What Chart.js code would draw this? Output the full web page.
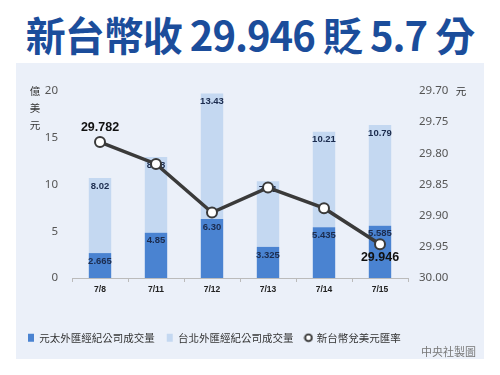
<!DOCTYPE html>
<html>
<head>
<meta charset="utf-8">
<script src="https://cdn.jsdelivr.net/npm/chart.js@4.4.1/dist/chart.umd.min.js"></script>
<style>
  body { margin: 0; background: #fff; width: 500px; height: 375px; overflow: hidden; font-family: "Noto Sans CJK TC", sans-serif; }
  .title { position: absolute; left: 0; top: 6px; width: 500px; text-align: center; font-size: 40px; font-weight: bold; color: #1b4d9b; letter-spacing: -1px; line-height: 56px; white-space: nowrap; }
  .panel { position: absolute; left: 16px; top: 63px; width: 468px; height: 296px; background: #ebf0f9; }
  .credit { position: absolute; right: 24px; top: 343px; font-size: 11px; color: #777; }
</style>
</head>
<body>
<div class="title">新台幣收 29.946 貶 5.7 分</div>
<div class="panel"><canvas id="chart"></canvas></div>
<div class="credit">中央社製圖</div>
<script>
const dates = ["7/8", "7/11", "7/12", "7/13", "7/14", "7/15"];
const yuantaVolume = [2.665, 4.85, 6.30, 3.325, 5.435, 5.585];
const taipeiVolume = [8.02, 8.08, 13.43, 7.01, 10.21, 10.79];
const usdRate = [29.782, 29.817, 29.895, 29.855, 29.888, 29.946];
const seriesNames = ["元太外匯經紀公司成交量", "台北外匯經紀公司成交量", "新台幣兌美元匯率"];

const darkBlue = "#4a83d1";
const lightBlue = "#c4d8f1";
const lineColor = "#3a3a3a";

function fmt(v) {
  const s = String(v);
  const dec = s.includes(".") ? s.split(".")[1].length : 0;
  return v.toFixed(Math.max(2, dec));
}

// little ring for the legend
const ring = document.createElement("canvas");
ring.width = 10; ring.height = 10;
const rc = ring.getContext("2d");
rc.beginPath();
rc.arc(5, 5, 3.4, 0, Math.PI * 2);
rc.fillStyle = "#fff";
rc.fill();
rc.lineWidth = 1.9;
rc.strokeStyle = "#333";
rc.stroke();

const labelPlugin = {
  id: "labels",
  afterDatasetDraw(chart, args) {
    const meta = args.meta;
    const ctx = chart.ctx;
    ctx.save();
    ctx.textAlign = "center";
    ctx.textBaseline = "middle";
    if (meta.type === "bar") {
      const vals = chart.data.datasets[args.index].data;
      ctx.font = "bold 9.5px 'Liberation Sans', Arial";
      ctx.fillStyle = "#1b2b4d";
      meta.data.forEach((el, i) => {
        ctx.fillText(fmt(vals[i]), el.x, el.y + 8);
      });
    } else {
      const vals = chart.data.datasets[args.index].data;
      ctx.font = "bold 12.5px 'Liberation Sans', Arial";
      ctx.fillStyle = "#111";
      const first = meta.data[0], last = meta.data[meta.data.length - 1];
      ctx.fillText(vals[0].toFixed(3), first.x, first.y - 15);
      ctx.fillText(vals[vals.length - 1].toFixed(3), last.x, last.y + 13);
    }
    ctx.restore();
  },
  afterDraw(chart) {
    const ctx = chart.ctx;
    const a = chart.chartArea;
    ctx.save();
    ctx.font = "10.5px 'Noto Sans CJK TC'";
    ctx.fillStyle = "#333";
    ctx.textAlign = "center";
    ctx.textBaseline = "middle";
    ["億", "美", "元"].forEach((c, i) => ctx.fillText(c, 19, a.top + i * 17.2));
    ctx.fillText("元", 445, a.top);
    ctx.restore();
  }
};

new Chart(document.getElementById("chart"), {
  type: "bar",
  data: {
    labels: dates,
    datasets: [
      {
        label: seriesNames[0],
        data: yuantaVolume,
        backgroundColor: darkBlue,
        stack: "v",
        order: 1,
        barPercentage: 0.4,
        categoryPercentage: 1.0
      },
      {
        label: seriesNames[1],
        data: taipeiVolume,
        backgroundColor: lightBlue,
        stack: "v",
        order: 2,
        barPercentage: 0.4,
        categoryPercentage: 1.0
      },
      {
        type: "line",
        label: seriesNames[2],
        data: usdRate,
        yAxisID: "y1",
        borderColor: lineColor,
        borderWidth: 3.5,
        pointRadius: 5,
        pointBorderWidth: 2,
        pointBackgroundColor: "#fff",
        pointBorderColor: lineColor,
        tension: 0,
        order: 0
      }
    ]
  },
  options: {
    responsive: true,
    maintainAspectRatio: false,
    animation: false,
    layout: { padding: { left: 0, right: 0, top: 28, bottom: 6 } },
    scales: {
      x: {
        stacked: true,
        offset: true,
        grid: { display: true, drawOnChartArea: false, tickLength: 4, color: "#bbb", offset: true },
        border: { display: true, color: "#bbb" },
        ticks: { color: "#222", padding: 3, font: { family: "'Liberation Sans', Arial", size: 8.5, weight: "bold" } },
        afterFit: (s) => { s.height = 42.5; }
      },
      y: {
        stacked: true,
        min: 0,
        max: 20,
        ticks: { stepSize: 5, padding: 14, color: "#555", font: { family: "'Noto Sans'", size: 11.5 } },
        grid: { display: false, drawTicks: false },
        border: { display: false },
        afterFit: (s) => { s.width = 56; }
      },
      y1: {
        position: "right",
        reverse: true,
        min: 29.70,
        max: 30.00,
        ticks: { stepSize: 0.05, padding: 11, color: "#555", font: { family: "'Noto Sans'", size: 11.5 }, callback: (v) => Number(v).toFixed(2) },
        grid: { display: false, drawTicks: false },
        border: { display: false },
        afterFit: (s) => { s.width = 76; }
      }
    },
    plugins: {
      tooltip: { enabled: false },
      legend: {
        position: "bottom",
        align: "start",
        labels: {
          usePointStyle: true,
          pointStyleWidth: 6,
          boxHeight: 8,
          padding: 12,
          color: "#333",
          font: { family: "'Noto Sans CJK TC'", size: 10.5 },
          generateLabels: (chart) => chart.data.datasets.map((ds, i) => ({
            text: ds.label,
            datasetIndex: i,
            fillStyle: ds.type === "line" ? "#fff" : ds.backgroundColor,
            strokeStyle: ds.type === "line" ? "#333" : ds.backgroundColor,
            lineWidth: 0,
            fontColor: "#333",
            pointStyle: ds.type === "line" ? ring : "rect",
            hidden: false
          }))
        }
      }
    }
  },
  plugins: [labelPlugin]
});
</script>
</body>
</html>
